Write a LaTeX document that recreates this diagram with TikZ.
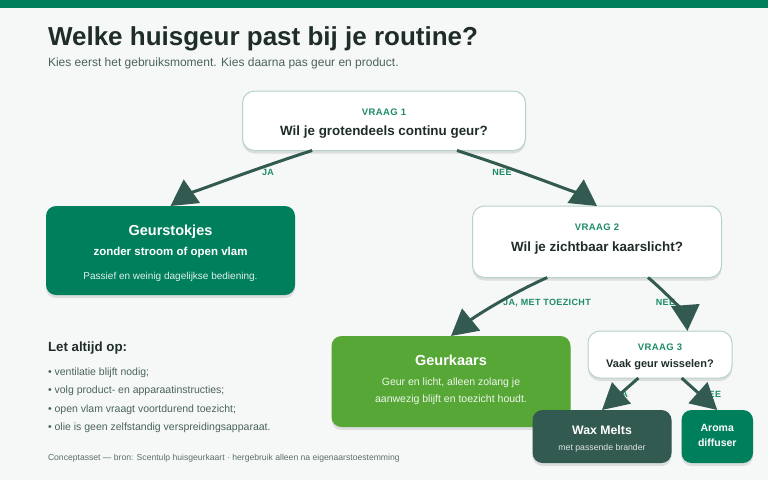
\documentclass[tikz,border=0pt]{standalone}
\usepackage{fontspec}
\setmainfont{Liberation Sans}
\newfontfamily\capsfont[LetterSpace=4]{Liberation Sans}
\usetikzlibrary{arrows.meta,shadows,calc}
\definecolor{bg}{HTML}{F6F8F7}
\definecolor{topbar}{HTML}{007F5C}
\definecolor{ink}{HTML}{1F2D29}
\definecolor{subink}{HTML}{4A635C}
\definecolor{accent}{HTML}{1E8C68}
\definecolor{qborder}{HTML}{B7D2C7}
\definecolor{deepgreen}{HTML}{007F5C}
\definecolor{leaf}{HTML}{57A737}
\definecolor{slate}{HTML}{335A50}
\definecolor{foot}{HTML}{5A6F69}
\tikzset{
  boxshadow/.style={drop shadow={shadow xshift=0pt,shadow yshift=-3pt,opacity=0.10,fill=black}},
  qbox/.style={draw=qborder,line width=1pt,fill=white,rounded corners=12pt,inner sep=0pt,outer sep=0pt,anchor=north west,boxshadow},
  leafbox/.style={draw=none,rounded corners=10pt,inner sep=0pt,outer sep=0pt,anchor=north west,boxshadow},
  txt/.style={inner sep=0pt,outer sep=0pt,anchor=base},
  qlabel/.style={txt,text=accent,font=\capsfont\bfseries\fontsize{9.5}{11}\selectfont},
  qtext/.style={txt,text=ink,font=\bfseries\fontsize{13.4}{16}\selectfont},
  edgelabel/.style={txt,text=accent,font=\capsfont\bfseries\fontsize{9}{11}\selectfont},
  flow/.style={draw=slate,line width=3pt,-{Triangle[length=26pt,width=28pt]}},
  note/.style={txt,anchor=base west,text=subink,font=\fontsize{10.5}{13}\selectfont},
}
\begin{document}
\begin{tikzpicture}[x=1pt,y=-1pt]
\path[use as bounding box,fill=bg] (0,0) rectangle (768,480);
\fill[topbar] (0,0) rectangle (768,7.5);

% title
\node[txt,anchor=base west,text=ink,font=\bfseries\fontsize{26}{30}\selectfont] (title) at (48,45.5) {Welke huisgeur past bij je routine?};
\node[txt,anchor=base west,text=subink,font=\fontsize{12}{14}\selectfont] (subtitle) at (48,66.5) {Kies eerst het gebruiksmoment. Kies daarna pas geur en product.};

% boxes
\node[qbox,minimum width=283pt,minimum height=59.5pt] (q1) at (242.5,91) {};
\node[leafbox,fill=deepgreen,minimum width=249pt,minimum height=89pt] (g1) at (46,206) {};
\node[qbox,minimum width=249pt,minimum height=71.5pt] (q2) at (472.5,206) {};
\node[leafbox,fill=leaf,minimum width=239pt,minimum height=91pt] (gk) at (331.5,336) {};
\node[qbox,minimum width=144pt,minimum height=47pt] (q3) at (588,331) {};
\node[leafbox,fill=slate,minimum width=139pt,minimum height=53pt] (wax) at (532.5,410) {};
\node[leafbox,fill=deepgreen,minimum width=71.5pt,minimum height=53pt] (aroma) at (681.5,410) {};

% box texts
\node[qlabel] (q1l) at (q1.center |- 0,115) {VRAAG 1};
\node[qtext] (q1t) at (q1.center |- 0,135) {Wil je grotendeels continu geur?};

\node[txt,text=white,font=\bfseries\fontsize{14.5}{17}\selectfont] (g1t) at (g1.center |- 0,235) {Geurstokjes};
\node[txt,text=white,font=\bfseries\fontsize{11.5}{14}\selectfont] (g1s) at (g1.center |- 0,255) {zonder stroom of open vlam};
\node[txt,text=white!88!deepgreen,font=\fontsize{10}{12}\selectfont] (g1b) at (g1.center |- 0,279) {Passief en weinig dagelijkse bediening.};

\node[qlabel] (q2l) at (q2.center |- 0,230) {VRAAG 2};
\node[qtext] (q2t) at (q2.center |- 0,251.5) {Wil je zichtbaar kaarslicht?};

\node[txt,text=white,font=\bfseries\fontsize{14.5}{17}\selectfont] (gkt) at (gk.center |- 0,365) {Geurkaars};
\node[txt,text=white!90!leaf,font=\fontsize{10.5}{13}\selectfont] (gkb1) at (gk.center |- 0,385.5) {Geur en licht, alleen zolang je};
\node[txt,text=white!90!leaf,font=\fontsize{10.5}{13}\selectfont] (gkb2) at (gk.center |- 0,402) {aanwezig blijft en toezicht houdt.};

\node[qlabel] (q3l) at (q3.center |- 0,350) {VRAAG 3};
\node[txt,text=ink,font=\bfseries\fontsize{11}{13}\selectfont] (q3t) at (q3.center |- 0,367.5) {Vaak geur wisselen?};

\node[txt,text=white,font=\bfseries\fontsize{12.3}{15}\selectfont] (waxt) at (wax.center |- 0,434) {Wax Melts};
\node[txt,text=white!85!slate,font=\fontsize{8.7}{10}\selectfont] (waxs) at (wax.center |- 0,450) {met passende brander};

\node[txt,text=white,font=\bfseries\fontsize{10.5}{13}\selectfont] (aromat) at (aroma.center |- 0,431.5) {Aroma};
\node[txt,text=white,font=\bfseries\fontsize{10.5}{13}\selectfont] (aromas) at (aroma.center |- 0,446) {diffuser};

% edge labels
\node[edgelabel] (l1) at (268,175) {JA};
\node[edgelabel] (l2) at (502,175) {NEE};
\node[edgelabel] (l3) at (547,305) {JA, MET TOEZICHT};
\node[edgelabel] (l4) at (665.5,305) {NEE};
\node[edgelabel] (l5) at (622,397) {JA};
\node[edgelabel] (l6) at (711.5,397) {NEE};

% connectors
\coordinate (q1a) at ($(q1.south west)!0.246!(q1.south east)$);
\coordinate (q1b) at ($(q1.south west)!0.758!(q1.south east)$);
\coordinate (q2a) at ($(q2.south west)!0.30!(q2.south east)$);
\coordinate (q2b) at ($(q2.south west)!0.705!(q2.south east)$);
\coordinate (q3a) at ($(q3.south west)!0.35!(q3.south east)$);
\coordinate (q3b) at ($(q3.south west)!0.65!(q3.south east)$);
\coordinate (q3in) at ($(q3.north west)!0.69!(q3.north east)$);

\draw[flow] (q1a) .. controls +(-83,27) and +(13,-9) .. (g1.north);
\draw[flow] (q1b) .. controls +(83,27) and +(-13,-9) .. (q2.north);
\draw[flow] (q2a) .. controls +(-42,19) and +(22,-18) .. (gk.north);
\draw[flow] (q2b) .. controls +(25,21) and +(-1,-13) .. (q3in);
\draw[flow] (q3a) -- (wax.north);
\draw[flow] (q3b) -- (aroma.north);

% notes
\node[txt,anchor=base west,text=ink,font=\bfseries\fontsize{13.3}{16}\selectfont] (nh) at (48,351.5) {Let altijd op:};
\node[note] (n1) at (48,375) {• ventilatie blijft nodig;};
\node[note] (n2) at (48,393.5) {• volg product- en apparaatinstructies;};
\node[note] (n3) at (48,412.3) {• open vlam vraagt voortdurend toezicht;};
\node[note] (n4) at (48,430.7) {• olie is geen zelfstandig verspreidingsapparaat.};

\node[txt,anchor=base west,text=foot,font=\fontsize{8.6}{10}\selectfont] (footer) at (48,460.7) {Conceptasset — bron: Scentulp huisgeurkaart · hergebruik alleen na eigenaarstoestemming};
\end{tikzpicture}
\end{document}
